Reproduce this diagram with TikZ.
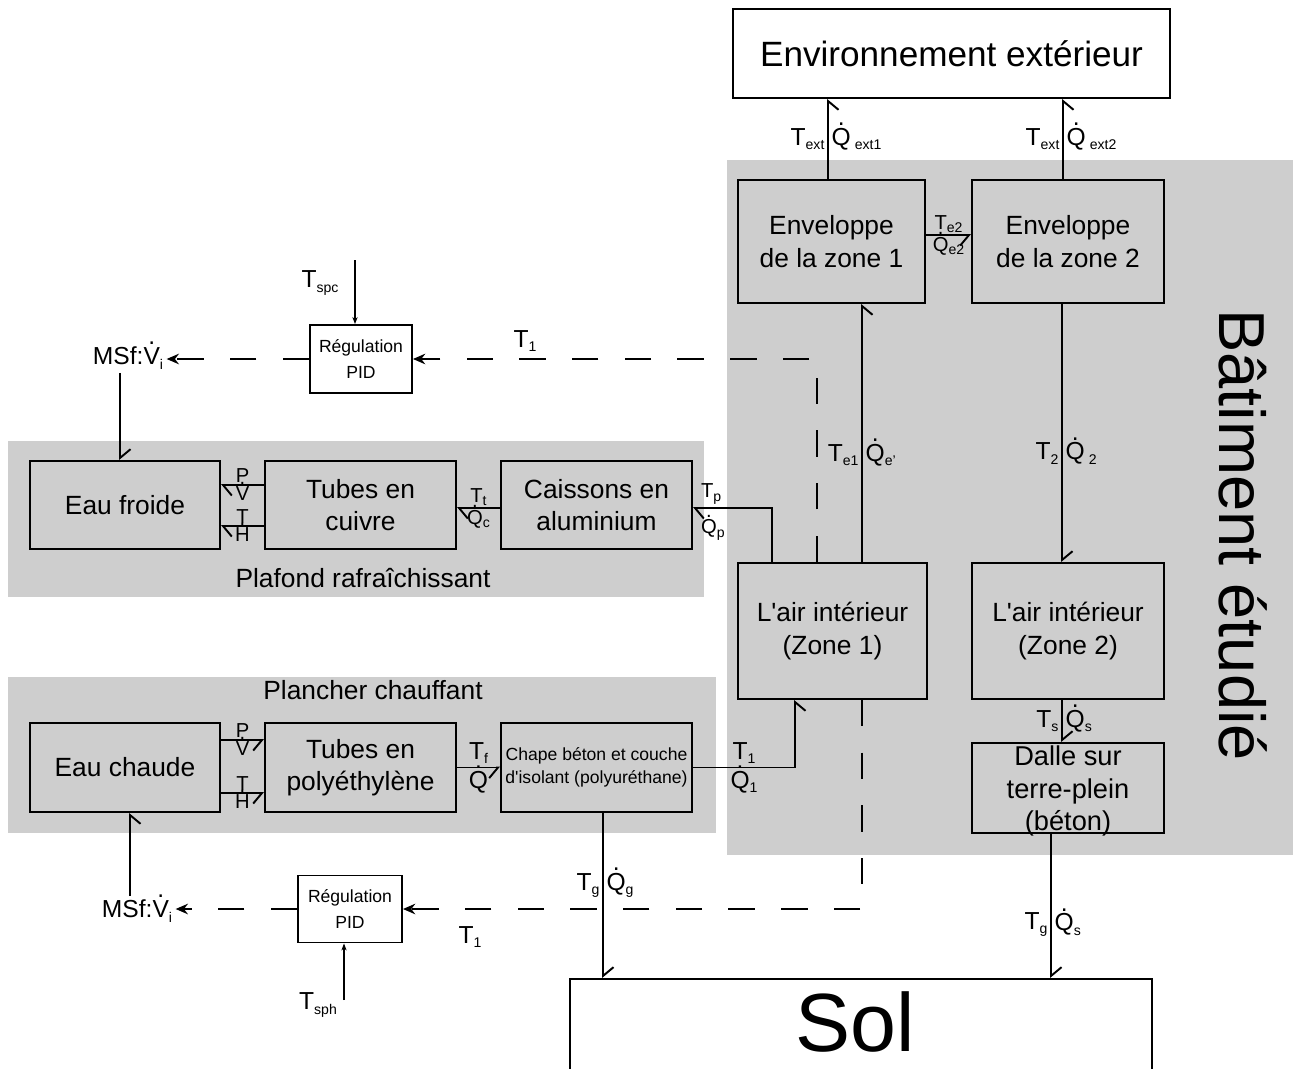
\documentclass[tikz,border=0pt]{standalone}
\usepackage{amsmath}
\usepackage{fontspec}
\setmainfont{Liberation Sans}
\usepackage{tikz}
\usetikzlibrary{arrows.meta}
\definecolor{zonegris}{RGB}{206,206,206}
\newcommand{\pointe}[1]{\leavevmode\ooalign{#1\cr\hidewidth\raisebox{0.8em}{.}\hidewidth\cr}}
\newcommand{\Qd}{\pointe{Q}}
\newcommand{\Vd}{\pointe{V}}
\newcommand{\Hd}{\pointe{H}}
\newcommand{\idx}[1]{\raisebox{-0.35ex}{\fontsize{8}{8}\selectfont #1}}

\begin{document}
\begin{tikzpicture}[x=0.02cm, y=-0.02cm, line width=1.1pt,
  box/.style={draw, align=center, inner sep=0pt, font=\fontsize{15}{18.5}\selectfont},
  pidbox/.style={draw, align=center, inner sep=0pt, font=\fontsize{10}{15}\selectfont},
  bond/.style={-{Straight Barb[harpoon, length=5pt, width=12pt]}},
  bondsw/.style={-{Straight Barb[harpoon, swap, length=5pt, width=12pt]}},
  signal/.style={dash pattern=on 15pt off 15pt, -{Stealth[length=7pt, width=6pt]}},
  ctrl/.style={-{Stealth[length=4pt, width=3pt]}},
  lbl/.style={font=\fontsize{14}{16}\selectfont, inner sep=1.5pt},
  slbl/.style={font=\fontsize{11.5}{13}\selectfont, inner sep=0.6pt}]

\useasboundingbox (0,0) rectangle (1293,1068);

% zones grises
\fill[zonegris] (727,160) rectangle (1293,855);
\fill[zonegris] (8,441) rectangle (704,597);
\fill[zonegris] (8,677) rectangle (716,833);

\node[font=\fontsize{37}{40}\selectfont, rotate=-90] (batiment) at (1243,535) {Bâtiment étudié};
\node[font=\fontsize{15}{18}\selectfont] (plafond) at (363,578) {Plafond rafraîchissant};
\node[font=\fontsize{15}{18}\selectfont] (plancher) at (373,690) {Plancher chauffant};

% blocs
\node[box, minimum width=8.74cm, minimum height=1.78cm, font=\fontsize{20}{24}\selectfont] (env) at (951.5,53.5) {Environnement extérieur};
\node[box, minimum width=3.74cm, minimum height=2.46cm] (env1) at (831.5,241.5) {Enveloppe\\de la zone 1};
\node[box, minimum width=3.84cm, minimum height=2.46cm] (env2) at (1068,241.5) {Enveloppe\\de la zone 2};
\node[box, minimum width=3.78cm, minimum height=2.72cm] (air1) at (832.5,631) {L\textquotesingle air intérieur\\(Zone 1)};
\node[box, minimum width=3.84cm, minimum height=2.72cm] (air2) at (1068,631) {L\textquotesingle air intérieur\\(Zone 2)};
\node[box, minimum width=3.84cm, minimum height=1.8cm] (dalle) at (1068,788) {};
\node[font=\fontsize{15.5}{18.7}\selectfont, align=center] (dalletxt) at (1068,791) {Dalle sur\\terre-plein\\(béton)};

\node[box, minimum width=3.8cm, minimum height=1.76cm] (froide) at (125,505) {Eau froide};
\node[box, minimum width=3.82cm, minimum height=1.76cm] (cuivre) at (360.5,505) {Tubes en\\cuivre};
\node[box, minimum width=3.82cm, minimum height=1.76cm] (alu) at (596.5,505) {Caissons en\\aluminium};

\node[box, minimum width=3.8cm, minimum height=1.78cm] (chaude) at (125,767.5) {Eau chaude};
\node[box, minimum width=3.82cm, minimum height=1.78cm] (poly) at (360.5,767.5) {Tubes en\\polyéthylène};
\node[box, minimum width=3.82cm, minimum height=1.78cm, font=\fontsize{10}{13}\selectfont] (chape) at (596.5,767.5) {Chape béton et couche\\d\textquotesingle isolant (polyuréthane)};

\node[box, minimum width=11.64cm, minimum height=3cm, anchor=north] (sol) at (861,978) {};
\node[font=\fontsize{47}{50}\selectfont] (soltxt) at (855,1022) {Sol};

\node[pidbox, minimum width=2.04cm, minimum height=1.36cm] (pid1) at (361,359) {Régulation\\PID};
\node[pidbox, minimum width=2.08cm, minimum height=1.34cm] (pid2) at (350,909) {Régulation\\PID};
\node[lbl] (msf1) at (128,358) {MSf:\Vd\idx{i}};
\node[lbl] (msf2) at (137,911) {MSf:\Vd\idx{i}};
\node[lbl] (tspc) at (320,283) {T\idx{spc}};
\node[lbl] (tsph) at (318,1005) {T\idx{sph}};
\coordinate (spcin) at (355,260);
\coordinate (sphin) at (344,1000);

% liens
\draw[bondsw] (828,0 |- env1.north) -- (828,0 |- env.south)
  node[lbl, midway, left] {T\idx{ext}} node[lbl, midway, right] {\Qd\,\idx{ext1}};
\draw[bondsw] (1063,0 |- env2.north) -- (1063,0 |- env.south)
  node[lbl, midway, left] {T\idx{ext}} node[lbl, midway, right] {\Qd\,\idx{ext2}};
\draw[bondsw] (env1.east |- 0,235) -- (env2.west |- 0,235)
  node[slbl, midway, above] {T\idx{e2}} node[slbl, midway, below] {\Qd\idx{e2}};
\draw[bondsw] (862,0 |- air1.north) -- (862,0 |- env1.south)
  node[lbl, pos=0.415, left] {T\idx{e1}} node[lbl, pos=0.415, right] {\Qd\idx{e'}};
\draw[bond] (1062,0 |- env2.south) -- (1062,0 |- air2.north)
  node[lbl, pos=0.58, left] {T\idx{2}} node[lbl, pos=0.58, right] {\Qd\,\idx{2}};
\draw[bond] (1062,0 |- air2.south) -- (1062,0 |- dalle.north)
  node[lbl, midway, left] {T\idx{s}} node[lbl, midway, right] {\Qd\idx{s}};
\draw[bond] (1051,0 |- dalle.south) -- (1051,0 |- sol.north)
  node[lbl, pos=0.63, left] {T\idx{g}} node[lbl, pos=0.63, right] {\Qd\idx{s}};
\draw[bond] (603,0 |- chape.south) -- (603,0 |- sol.north)
  node[lbl, pos=0.44, left] {T\idx{g}} node[lbl, pos=0.44, right] {\Qd\idx{g}};
\draw[bondsw] (chape.east) -| (795,0 |- air1.south)
  node[lbl, pos=0.25, above] {T\idx{1}} node[lbl, pos=0.25, below] {\Qd\idx{1}};
\draw[bondsw] (poly.east) -- (chape.west)
  node[lbl, midway, above] {T\idx{f}} node[lbl, midway, below] {\Qd};
\draw[bondsw] (chaude.east |- 0,740) -- (poly.west |- 0,740)
  node[slbl, midway, above] {P} node[slbl, midway, below] {\Vd};
\draw[bondsw] (chaude.east |- 0,793) -- (poly.west |- 0,793)
  node[slbl, midway, above] {T} node[slbl, midway, below] {\Hd};
\draw[bond] (cuivre.west |- 0,485) -- (froide.east |- 0,485)
  node[slbl, midway, above] {P} node[slbl, midway, below] {\Vd};
\draw[bond] (cuivre.west |- 0,526) -- (froide.east |- 0,526)
  node[slbl, midway, above] {T} node[slbl, midway, below] {\Hd};
\draw[bond] (alu.west |- 0,508) -- (cuivre.east |- 0,508)
  node[slbl, midway, above] {T\idx{t}} node[slbl, midway, below] {\Qd\idx{c}};
\draw[bond] (772,0 |- air1.north) |- (alu.east |- 0,508);
\node[slbl, anchor=west] (tp) at (699,494) {T\idx{p}};
\node[slbl, anchor=west] (qp) at (699,530) {\Qd\idx{p}};
\draw[bond] (120,0 |- msf1.south) -- (120,0 |- froide.north);
\draw[bondsw] (130,0 |- msf2.north) -- (130,0 |- chaude.south);

% signaux
\draw[signal] (817,0 |- air1.north) |- (pid1.east);
\node[lbl] (t1a) at (525,341) {T\idx{1}};
\draw[signal] (pid1.west) -- (msf1.east |- pid1.west);
\draw[signal] (862,0 |- air1.south) |- (pid2.east);
\node[lbl] (t1b) at (470,937) {T\idx{1}};
\draw[signal] (pid2.west) -- (msf2.east |- pid2.west);
\draw[ctrl] (spcin) -- (355,0 |- pid1.north);
\draw[ctrl] (sphin) -- (344,0 |- pid2.south);

\end{tikzpicture}
\end{document}
